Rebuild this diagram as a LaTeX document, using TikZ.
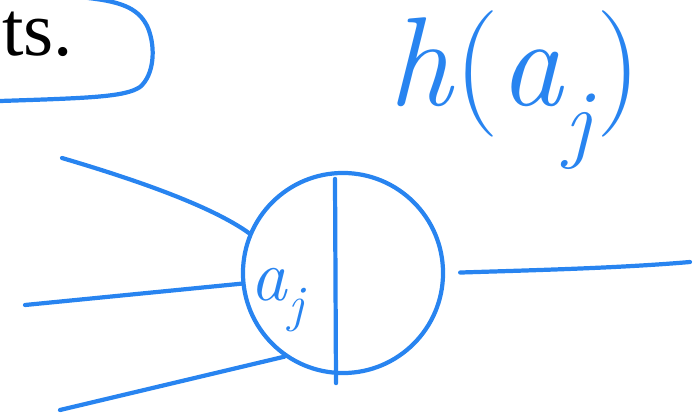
\documentclass[tikz,border=0pt]{standalone}
\usepackage{fontspec}
\usepackage{xcolor}
\usepackage{tikz}
\usetikzlibrary{arrows.meta,calc}
\newfontfamily\serifdiapo{Liberation Serif}
\definecolor{AzulPluma}{RGB}{40,132,240}

\begin{document}
\begin{tikzpicture}[x=0.025cm,y=-0.025cm,>=Latex,
    trazo/.style={AzulPluma,line width=3pt,line cap=round,line join=round},
    neurona/.style={circle,draw,trazo,minimum size=5cm,inner sep=0pt}]
  \useasboundingbox (0,0) rectangle (698,415);
  \clip (0,0) rectangle (698,415);
  \node[anchor=base west,inner sep=0pt,font=\serifdiapo\fontsize{55}{55}\selectfont] (texto) at (2,55) {ts.};
  \draw[trazo] (88,-2) .. controls (125,2) and (140,10) .. (148,28)
    .. controls (156,48) and (154,75) .. (140,87)
    .. controls (125,97) and (90,98) .. (0,101);
  \node[AzulPluma,inner sep=0pt,font=\fontsize{90}{90}\selectfont] (salida) at (515,90) {\textit{h}(\textit{a}\textsubscript{\textit{j}})};
  \node[neurona] (N) at (343,273) {};
  \draw[trazo] ($(N.north)+(-8,8)$) -- ($(N.south)+(-7,8)$);
  \node[AzulPluma,inner sep=0pt,font=\fontsize{52}{52}\selectfont] (act) at (279,300) {\textit{a}\textsubscript{\textit{j}}};
  \coordinate (x1) at (62,158);
  \coordinate (x2) at (25,305);
  \coordinate (x3) at (60,410);
  \coordinate (y) at (690,262);
  \draw[trazo] (x1) .. controls (130,178) and (210,205) .. (N.157);
  \draw[trazo] (x2) -- (N.186);
  \draw[trazo] (x3) -- (N.235);
  \draw[trazo,shorten <=0.375cm] (N.east) .. controls (540,270) and (620,268) .. (y);
\end{tikzpicture}
\end{document}
